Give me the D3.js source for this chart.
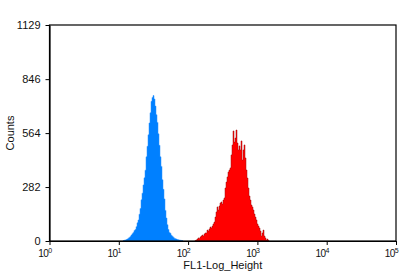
<!DOCTYPE html>
<html>
<head>
<meta charset="utf-8">
<script src="https://cdn.jsdelivr.net/npm/d3@7"></script>
<style>
  body { margin: 0; background: #fff; }
  svg { display: block; font-family: "Liberation Sans", Arial, sans-serif; }
</style>
</head>
<body>
<svg id="chart" width="404" height="277"></svg>
<script>
// histogram data, log10 of first bin edge + counts per bin
var binWidth = 0.01443;
var xTicks = [1, 10, 100, 1000, 10000, 100000];
var yTicks = [0, 282, 564, 846, 1129];

var blueStart = 1.0606;
var blueCounts = [2, 4, 5, 8, 10, 15, 18, 24, 31, 38, 45, 55, 60, 75, 95, 110, 140, 170, 215, 250,
    293, 330, 370, 440, 495, 555, 617, 670, 730, 750, 760, 742, 705, 660, 620, 560, 500, 440, 390, 320,
    270, 220, 160, 120, 85, 60, 45, 40, 30, 25, 20, 15, 12, 10, 8, 6, 5, 4, 3, 2];

var redStart = 2.0996;
var redCounts = [3, 5, 10, 16, 13, 21, 26, 31, 26, 37, 42, 42, 57, 52, 63, 73, 68, 78, 89, 99,
    125, 152, 178, 162, 183, 199, 204, 193, 214, 225, 277, 308, 335, 361, 371, 382, 450, 502, 575, 517,
    538, 580, 512, 476, 497, 476, 523, 423, 476, 502, 434, 371, 329, 277, 235, 214, 188, 178, 162, 141,
    125, 110, 89, 78, 68, 52, 26, 42, 57, 26, 16, 5, 10, 3];

var svg = d3.select("#chart");
var pLeft = 49.5, pRight = 396, pTop = 25, pBottom = 241;

var x = d3.scaleLog().domain([1, 100000]).range([pLeft, pRight]);
var y = d3.scaleLinear().domain([0, 1129]).range([pBottom, pTop]);

function toPoints(start, counts) {
    var pts = counts.map(function(c, i) {
        return { v: Math.pow(10, start + i * binWidth), c: c };
    });
    pts.push({ v: Math.pow(10, start + counts.length * binWidth), c: 0 });
    return pts;
}

var area = d3.area()
    .curve(d3.curveStepAfter)
    .x(function(d) { return x(d.v); })
    .y0(y(0))
    .y1(function(d) { return y(d.c); });

svg.append("path")
    .attr("d", area(toPoints(blueStart, blueCounts)))
    .attr("fill", "#0080ff")
    .attr("stroke", "#2a93ff")
    .attr("stroke-width", 0.5);

svg.append("path")
    .attr("d", area(toPoints(redStart, redCounts)))
    .attr("fill", "#ff0000")
    .attr("stroke", "#a01010")
    .attr("stroke-width", 0.5);

// frame
svg.append("rect")
    .attr("x", pLeft).attr("y", pTop)
    .attr("width", pRight - pLeft).attr("height", pBottom - pTop)
    .attr("fill", "none").attr("stroke", "#000").attr("stroke-width", 1.2);

var gx = svg.append("g")
    .attr("transform", "translate(0," + pBottom + ")")
    .call(d3.axisBottom(x).tickValues(xTicks).tickSize(4).tickSizeOuter(0).tickFormat(""));
gx.select(".domain").attr("stroke-width", 1.2);

gx.selectAll(".tick").each(function(d) {
    var t = d3.select(this).append("text")
        .attr("fill", "#111")
        .attr("text-anchor", "end")
        .attr("x", 1.5)
        .attr("y", 15.5)
        .style("font-size", "10px")
        .style("letter-spacing", "-0.6px");
    t.append("tspan").text("10");
    t.append("tspan")
        .attr("dy", -3.5)
        .style("font-size", "7px")
        .text(Math.round(Math.log10(d)));
});

var gy = svg.append("g")
    .attr("transform", "translate(" + pLeft + ",0)")
    .call(d3.axisLeft(y).tickValues(yTicks).tickSize(4).tickSizeOuter(0).tickPadding(5)
        .tickFormat(function(d) { return String(d); }));
gy.select(".domain").attr("stroke-width", 1.2);
gy.selectAll("text")
    .attr("fill", "#111")
    .style("font-size", "11px")
    .style("font-family", "Liberation Sans, Arial, sans-serif");

svg.append("text")
    .attr("transform", "translate(13.5," + (pTop + pBottom) / 2 + ") rotate(-90)")
    .attr("text-anchor", "middle")
    .attr("fill", "#111")
    .style("font-size", "11px")
    .text("Counts");

svg.append("text")
    .attr("x", (pLeft + pRight) / 2)
    .attr("y", 268.5)
    .attr("text-anchor", "middle")
    .attr("fill", "#111")
    .style("font-size", "11px")
    .text("FL1-Log_Height");
</script>
</body>
</html>
